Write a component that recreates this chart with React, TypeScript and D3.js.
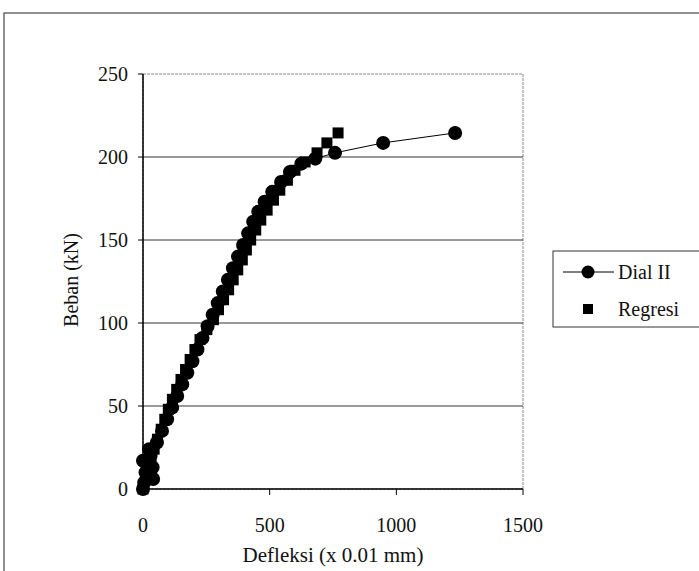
import React from "react";
import * as d3 from "d3";

const dialX = [0, 5, 10, 0, 24, 40, 38, 30, 55, 75, 95, 115, 135, 155, 175, 195, 215, 235, 255, 275, 295, 315, 335, 355, 375, 395, 415, 435, 455, 480, 510, 545, 580, 625, 680, 758, 948, 1232];
const dialY = [0, 4, 10, 17, 24, 6, 13, 20, 28, 35, 42, 49, 56, 63, 70, 77, 84, 91, 98, 105, 112, 119, 126, 133, 140, 147, 154, 161, 167, 173, 179, 185, 191, 196, 199, 202.5, 208.5, 214.5];

const regX = [0, 10, 22, 32, 44, 57, 72, 86, 100, 116, 133, 150, 168, 186, 205, 225, 252, 278, 298, 318, 338, 356, 374, 392, 408, 425, 445, 465, 490, 515, 540, 570, 600, 640, 687, 726, 770];
const regY = [0, 6, 12, 18, 24, 30, 36, 42, 48, 54, 60, 66, 72, 78, 84, 90, 96, 102, 108, 114, 120, 126, 132, 138, 144, 150, 156, 162, 168, 174, 180, 186, 192, 197, 202.5, 208.5, 214.5];

const xTicks = [0, 500, 1000, 1500];
const yTicks = [0, 50, 100, 150, 200, 250];

const FONT = "'Liberation Serif', 'Times New Roman', serif";

export default function App() {
  const W = 699, H = 571;
  const x = d3.scaleLinear().domain([0, 1500]).range([143, 523]);
  const y = d3.scaleLinear().domain([0, 250]).range([489, 74]);
  const dial = dialX.map((v, i) => [v, dialY[i]] as [number, number]);
  const reg = regX.map((v, i) => [v, regY[i]] as [number, number]);
  const line = d3.line<[number, number]>().x(d => x(d[0])).y(d => y(d[1]));
  const sq = 11;
  return (
    <svg width={W} height={H} style={{ position: "absolute", left: 0, top: 0, background: "#fff" }} fontFamily={FONT} fill="#111">
      <rect x={0} y={0} width={W} height={H} fill="#fff" />
      <rect x={4} y={13} width={760} height={620} fill="none" stroke="#222" strokeWidth={1} />
      <rect x={x(0)} y={y(250)} width={x(1500) - x(0)} height={y(0) - y(250)} fill="none" stroke="#888" strokeWidth={1} strokeDasharray="3,1" />
      {yTicks.filter(t => t > 0 && t < 250).map(t => (
        <line key={"g" + t} x1={x(0)} x2={x(1500)} y1={y(t)} y2={y(t)} stroke="#333" strokeWidth={1} />
      ))}
      <line x1={x(0)} x2={x(0)} y1={y(0)} y2={y(250)} stroke="#000" strokeWidth={1.5} />
      <line x1={x(0)} x2={x(1500)} y1={y(0)} y2={y(0)} stroke="#000" strokeWidth={1.5} />
      {yTicks.map(t => (
        <g key={"y" + t}>
          <line x1={x(0) - 5} x2={x(0)} y1={y(t)} y2={y(t)} stroke="#000" />
          <text x={128} y={y(t)} dy="0.35em" textAnchor="end" fontSize={20}>{t}</text>
        </g>
      ))}
      {xTicks.map(t => (
        <g key={"x" + t}>
          <line x1={x(t)} x2={x(t)} y1={y(0)} y2={y(0) + 6} stroke="#000" />
          <text x={x(t)} y={525} dy="0.35em" textAnchor="middle" fontSize={20}>{t}</text>
        </g>
      ))}
      <text x={333} y={555} dy="0.35em" textAnchor="middle" fontSize={21}>Defleksi (x 0.01 mm)</text>
      <text transform={`translate(71,280) rotate(-90)`} dy="0.35em" textAnchor="middle" fontSize={20}>Beban (kN)</text>
      {reg.map((d, i) => (
        <rect key={"r" + i} x={x(d[0]) - sq / 2} y={y(d[1]) - sq / 2} width={sq} height={sq} fill="#000" />
      ))}
      <path d={line(dial) || ""} fill="none" stroke="#000" strokeWidth={1} />
      {dial.map((d, i) => (
        <circle key={"d" + i} cx={x(d[0])} cy={y(d[1])} r={7} fill="#000" />
      ))}
      <rect x={553} y={251} width={200} height={76} fill="#fff" stroke="#333" strokeWidth={1} />
      <line x1={563} x2={614} y1={272} y2={272} stroke="#000" strokeWidth={1} />
      <circle cx={588} cy={272} r={6.5} fill="#000" />
      <text x={618} y={272} dy="0.35em" fontSize={20}>Dial II</text>
      <rect x={588 - 5} y={309 - 5} width={10} height={10} fill="#000" />
      <text x={618} y={309} dy="0.35em" fontSize={20}>Regresi</text>
    </svg>
  );
}
